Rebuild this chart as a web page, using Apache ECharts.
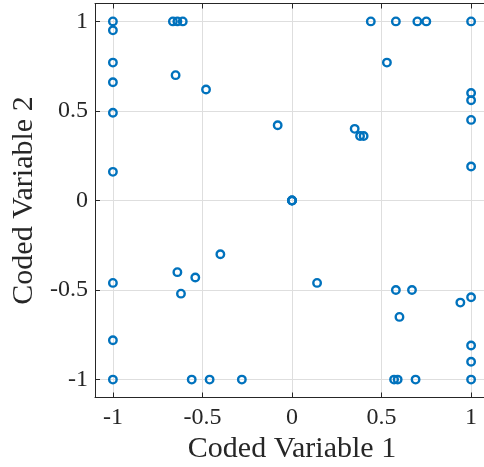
<!DOCTYPE html>
<html>
<head>
<meta charset="utf-8">
<script src="https://cdn.jsdelivr.net/npm/echarts@6/dist/echarts.min.js"></script>
<style>
  html, body { margin: 0; padding: 0; background: #fff; overflow: hidden; }
  /* plot box runs past the right edge of the window, as in the original */
  #chart { width: 500px; height: 467px; }
</style>
</head>
<body>
<div id="chart"></div>
<script>
// design points (coded units)
const var1 = [
  -1, -0.665, -0.64, -0.61, 0.44, 0.58, 0.70, 0.75, 1,
  -1, -1, -1, -1, -1, -1, -1, -1,
  -0.65, -0.48, -0.08, 0, 0, 0, 0.35, 0.38, 0.40, 0.53,
  1, 1, 1, 1, 1, 1, 1, 1,
  -0.40, -0.64, -0.54, -0.62, 0.14, 0.58, 0.67, 0.60, 0.94,
  -0.56, -0.46, -0.28, 0.57, 0.59, 0.69
];
const var2 = [
  1, 1, 1, 1, 1, 1, 1, 1, 1,
  0.95, 0.77, 0.66, 0.49, 0.16, -0.46, -0.78, -1,
  0.70, 0.62, 0.42, 0, 0, 0, 0.40, 0.36, 0.36, 0.77,
  0.60, 0.56, 0.45, 0.19, -0.54, -0.81, -0.90, -1,
  -0.30, -0.40, -0.43, -0.52, -0.46, -0.50, -0.50, -0.65, -0.57,
  -1, -1, -1, -1, -1, -1
];
const tickValues = [-1, -0.5, 0, 0.5, 1];
const tickLabels = ['-1', '-0.5', '0', '0.5', '1'];

const points = var1.map((x, i) => [x, var2[i]]);
const fmt = v => tickLabels[tickValues.indexOf(Math.round(v * 10) / 10)] || '';

const axisColor = '#262626';
const font = 'Liberation Serif';

const mainAxis = (pos, name, gap, margin) => ({
  type: 'value', min: -1.1, max: 1.1, position: pos,
  name: name, nameLocation: 'middle', nameGap: gap,
  nameTextStyle: { fontFamily: font, fontSize: 30, color: axisColor },
  axisLine: { show: true, onZero: false, lineStyle: { color: axisColor, width: 1 } },
  axisTick: { show: true, inside: true, length: 5, customValues: tickValues, lineStyle: { color: axisColor } },
  axisLabel: { customValues: tickValues, formatter: fmt, fontFamily: font, fontSize: 24, color: axisColor, margin: margin },
  splitLine: { show: true, lineStyle: { color: '#dedede', width: 1 } }
});
const boxAxis = (pos) => ({
  type: 'value', min: -1.1, max: 1.1, position: pos,
  axisLine: { show: true, onZero: false, lineStyle: { color: axisColor, width: 1 } },
  axisTick: { show: true, inside: true, length: 5, customValues: tickValues, lineStyle: { color: axisColor } },
  axisLabel: { show: false },
  splitLine: { show: false }
});

const chart = echarts.init(document.getElementById('chart'));
chart.setOption({
  animation: false,
  grid: { left: 95, top: 3.5, width: 394, height: 394, containLabel: false, outerBoundsMode: 'none' },
  xAxis: [mainAxis('bottom', 'Coded Variable 1', 37, 8), boxAxis('top')],
  yAxis: [mainAxis('left', 'Coded Variable 2', 45, 7), boxAxis('right')],
  series: [{
    type: 'scatter',
    data: points,
    symbol: 'circle',
    symbolSize: 7.5,
    itemStyle: { color: 'rgba(0,0,0,0)', borderColor: '#0072BD', borderWidth: 2.4, opacity: 1 },
    clip: false
  }]
});
</script>
</body>
</html>
